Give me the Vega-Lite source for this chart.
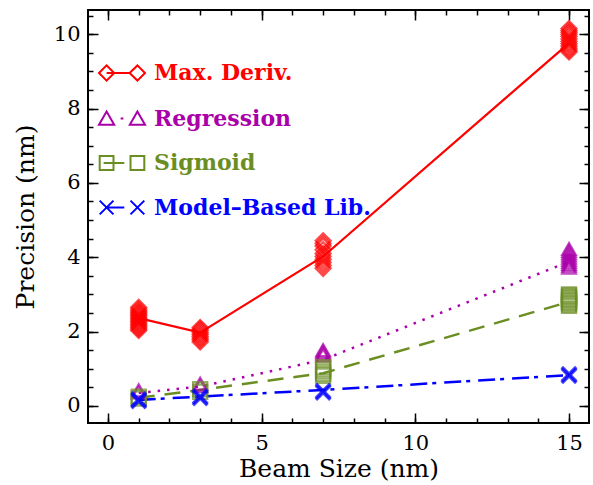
{
  "$schema": "https://vega.github.io/schema/vega-lite/v6.json",
  "width": 501,
  "height": 413,
  "autosize": {"type": "none"},
  "padding": {"left": 88, "top": 10, "right": 4, "bottom": 62},
  "background": "white",
  "config": {
    "view": {"stroke": "black", "strokeWidth": 2},
    "axis": {
      "domain": false, "grid": false, "ticks": true, "tickColor": "black", "tickWidth": 1.5,
      "labelFont": "DejaVu Serif", "labelFontSize": 21, "labelColor": "black",
      "titleFont": "DejaVu Serif", "titleFontSize": 25, "titleFontWeight": "normal", "titleColor": "black"
    }
  },
  "datasets": {
    "lines": [
      {"series": "Max. Deriv.", "x": 1, "y": 2.36},
      {"series": "Max. Deriv.", "x": 3, "y": 1.97},
      {"series": "Max. Deriv.", "x": 7, "y": 4.02},
      {"series": "Max. Deriv.", "x": 15, "y": 9.76},
      {"series": "Regression", "x": 1, "y": 0.35},
      {"series": "Regression", "x": 3, "y": 0.52},
      {"series": "Regression", "x": 7, "y": 1.24},
      {"series": "Regression", "x": 15, "y": 3.88},
      {"series": "Sigmoid", "x": 1, "y": 0.22},
      {"series": "Sigmoid", "x": 3, "y": 0.43},
      {"series": "Sigmoid", "x": 7, "y": 0.88},
      {"series": "Sigmoid", "x": 15, "y": 2.8},
      {"series": "Model–Based Lib.", "x": 1, "y": 0.16},
      {"series": "Model–Based Lib.", "x": 3, "y": 0.25},
      {"series": "Model–Based Lib.", "x": 7, "y": 0.43},
      {"series": "Model–Based Lib.", "x": 15, "y": 0.83}
    ],
    "pts": [
      {"series": "Max. Deriv.", "x": 1, "y": 2.03},
      {"series": "Max. Deriv.", "x": 1, "y": 2.07},
      {"series": "Max. Deriv.", "x": 1, "y": 2.11},
      {"series": "Max. Deriv.", "x": 1, "y": 2.15},
      {"series": "Max. Deriv.", "x": 1, "y": 2.19},
      {"series": "Max. Deriv.", "x": 1, "y": 2.23},
      {"series": "Max. Deriv.", "x": 1, "y": 2.27},
      {"series": "Max. Deriv.", "x": 1, "y": 2.31},
      {"series": "Max. Deriv.", "x": 1, "y": 2.35},
      {"series": "Max. Deriv.", "x": 1, "y": 2.39},
      {"series": "Max. Deriv.", "x": 1, "y": 2.43},
      {"series": "Max. Deriv.", "x": 1, "y": 2.47},
      {"series": "Max. Deriv.", "x": 1, "y": 2.51},
      {"series": "Max. Deriv.", "x": 1, "y": 2.55},
      {"series": "Max. Deriv.", "x": 1, "y": 2.6},
      {"series": "Max. Deriv.", "x": 1, "y": 2.65},
      {"series": "Max. Deriv.", "x": 3, "y": 1.72},
      {"series": "Max. Deriv.", "x": 3, "y": 1.77},
      {"series": "Max. Deriv.", "x": 3, "y": 1.82},
      {"series": "Max. Deriv.", "x": 3, "y": 1.87},
      {"series": "Max. Deriv.", "x": 3, "y": 1.92},
      {"series": "Max. Deriv.", "x": 3, "y": 1.97},
      {"series": "Max. Deriv.", "x": 3, "y": 2.02},
      {"series": "Max. Deriv.", "x": 3, "y": 2.07},
      {"series": "Max. Deriv.", "x": 3, "y": 2.11},
      {"series": "Max. Deriv.", "x": 7, "y": 3.7},
      {"series": "Max. Deriv.", "x": 7, "y": 3.78},
      {"series": "Max. Deriv.", "x": 7, "y": 3.86},
      {"series": "Max. Deriv.", "x": 7, "y": 3.94},
      {"series": "Max. Deriv.", "x": 7, "y": 4.02},
      {"series": "Max. Deriv.", "x": 7, "y": 4.1},
      {"series": "Max. Deriv.", "x": 7, "y": 4.2},
      {"series": "Max. Deriv.", "x": 7, "y": 4.3},
      {"series": "Max. Deriv.", "x": 7, "y": 4.37},
      {"series": "Max. Deriv.", "x": 7, "y": 4.44},
      {"series": "Max. Deriv.", "x": 15, "y": 9.52},
      {"series": "Max. Deriv.", "x": 15, "y": 9.57},
      {"series": "Max. Deriv.", "x": 15, "y": 9.62},
      {"series": "Max. Deriv.", "x": 15, "y": 9.68},
      {"series": "Max. Deriv.", "x": 15, "y": 9.74},
      {"series": "Max. Deriv.", "x": 15, "y": 9.8},
      {"series": "Max. Deriv.", "x": 15, "y": 9.87},
      {"series": "Max. Deriv.", "x": 15, "y": 9.94},
      {"series": "Max. Deriv.", "x": 15, "y": 10.0},
      {"series": "Max. Deriv.", "x": 15, "y": 10.05},
      {"series": "Max. Deriv.", "x": 15, "y": 10.1},
      {"series": "Max. Deriv.", "x": 15, "y": 10.15},
      {"series": "Regression", "x": 1, "y": 0.36},
      {"series": "Regression", "x": 1, "y": 0.42},
      {"series": "Regression", "x": 3, "y": 0.54},
      {"series": "Regression", "x": 3, "y": 0.6},
      {"series": "Regression", "x": 7, "y": 1.36},
      {"series": "Regression", "x": 7, "y": 1.41},
      {"series": "Regression", "x": 7, "y": 1.46},
      {"series": "Regression", "x": 7, "y": 1.5},
      {"series": "Regression", "x": 15, "y": 3.72},
      {"series": "Regression", "x": 15, "y": 3.77},
      {"series": "Regression", "x": 15, "y": 3.82},
      {"series": "Regression", "x": 15, "y": 3.87},
      {"series": "Regression", "x": 15, "y": 3.93},
      {"series": "Regression", "x": 15, "y": 3.99},
      {"series": "Regression", "x": 15, "y": 4.05},
      {"series": "Regression", "x": 15, "y": 4.11},
      {"series": "Regression", "x": 15, "y": 4.17},
      {"series": "Regression", "x": 15, "y": 4.22},
      {"series": "Sigmoid", "x": 1, "y": 0.2},
      {"series": "Sigmoid", "x": 1, "y": 0.25},
      {"series": "Sigmoid", "x": 3, "y": 0.38},
      {"series": "Sigmoid", "x": 3, "y": 0.45},
      {"series": "Sigmoid", "x": 7, "y": 0.81},
      {"series": "Sigmoid", "x": 7, "y": 0.86},
      {"series": "Sigmoid", "x": 7, "y": 0.92},
      {"series": "Sigmoid", "x": 7, "y": 0.98},
      {"series": "Sigmoid", "x": 7, "y": 1.04},
      {"series": "Sigmoid", "x": 15, "y": 2.69},
      {"series": "Sigmoid", "x": 15, "y": 2.73},
      {"series": "Sigmoid", "x": 15, "y": 2.77},
      {"series": "Sigmoid", "x": 15, "y": 2.81},
      {"series": "Sigmoid", "x": 15, "y": 2.85},
      {"series": "Sigmoid", "x": 15, "y": 2.89},
      {"series": "Sigmoid", "x": 15, "y": 2.93},
      {"series": "Sigmoid", "x": 15, "y": 2.97},
      {"series": "Sigmoid", "x": 15, "y": 3.0},
      {"series": "Model–Based Lib.", "x": 1, "y": 0.13},
      {"series": "Model–Based Lib.", "x": 1, "y": 0.17},
      {"series": "Model–Based Lib.", "x": 3, "y": 0.21},
      {"series": "Model–Based Lib.", "x": 3, "y": 0.25},
      {"series": "Model–Based Lib.", "x": 7, "y": 0.36},
      {"series": "Model–Based Lib.", "x": 7, "y": 0.4},
      {"series": "Model–Based Lib.", "x": 15, "y": 0.81},
      {"series": "Model–Based Lib.", "x": 15, "y": 0.85}
    ]
  },
  "resolve": {"scale": {"x": "independent", "y": "independent"}, "axis": {"x": "independent", "y": "independent"}},
  "layer": [
    {
      "data": {"name": "lines"},
      "transform": [{"filter": "datum.series === 'Max. Deriv.'"}],
      "mark": {"type": "line", "strokeWidth": 2.2},
      "encoding": {
        "x": {"field": "x", "type": "quantitative",
          "scale": {"domain": [-0.65, 15.65], "nice": false, "zero": false},
          "axis": {"orient": "bottom", "values": [0, 5, 10, 15], "offset": -10, "tickSize": 10, "labelPadding": 9, "title": "Beam Size (nm)", "titlePadding": 3}},
        "y": {"field": "y", "type": "quantitative",
          "scale": {"domain": [-0.46, 10.65], "nice": false, "zero": false},
          "axis": {"orient": "left", "values": [0, 2, 4, 6, 8, 10], "offset": -10, "tickSize": 10, "labelPadding": 8, "title": "Precision (nm)", "titlePadding": 15}},
        "color": {"field": "series", "type": "nominal",
          "scale": {"domain": ["Max. Deriv.", "Regression", "Sigmoid", "Model–Based Lib."], "range": ["#ff0000", "#aa00aa", "#6b8e23", "#0000ff"]},
          "legend": {
            "orient": "none", "legendX": 10, "legendY": 39, "title": null, "padding": 0,
            "symbolSize": 2116, "symbolStrokeWidth": 2, "symbolFillColor": "transparent",
            "labelFont": "DejaVu Serif", "labelFontSize": 22, "labelFontWeight": "bold", "labelOffset": 8, "labelLimit": 400, "rowPadding": 9.5,
            "encode": {
              "symbols": {"update": {
                "shape": {"signal": "datum.value === 'Max. Deriv.' ? 'M-1,0L-0.67,-0.33L-0.34,0L-0.67,0.33ZM0.33,0L0.67,-0.33L1,0L0.67,0.33ZM-0.67,0L0.33,0' : datum.value === 'Regression' ? 'M-1,0.27L-0.67,-0.3L-0.34,0.27ZM0.34,0.27L0.67,-0.3L1,0.27ZM-0.06,0L0.06,0' : datum.value === 'Sigmoid' ? 'M-0.97,-0.3H-0.37V0.3H-0.97ZM0.37,-0.3H0.97V0.3H0.37ZM-0.8,0L0.1,0' : 'M-0.97,-0.3L-0.37,0.3M-0.97,0.3L-0.37,-0.3M0.37,-0.3L0.97,0.3M0.37,0.3L0.97,-0.3M-0.67,0L0.1,0'"},
                "fill": {"value": "transparent"}
              }},
              "labels": {"update": {"fill": {"scale": "color", "field": "value"}}}
            }
          }}
      }
    },
    {
      "data": {"name": "lines"},
      "transform": [{"filter": "datum.series === 'Regression'"}],
      "mark": {"type": "line", "strokeWidth": 2.5, "strokeDash": [2.5, 7]},
      "encoding": {
        "x": {"field": "x", "type": "quantitative", "scale": {"domain": [-0.65, 15.65], "nice": false, "zero": false},
          "axis": {"orient": "bottom", "values": [0,1,2,3,4,5,6,7,8,9,10,11,12,13,14,15], "offset": -5, "tickSize": 5, "labels": false, "title": null}},
        "y": {"field": "y", "type": "quantitative", "scale": {"domain": [-0.46, 10.65], "nice": false, "zero": false},
          "axis": {"orient": "left", "values": [0,0.5,1,1.5,2,2.5,3,3.5,4,4.5,5,5.5,6,6.5,7,7.5,8,8.5,9,9.5,10,10.5], "offset": -5, "tickSize": 5, "labels": false, "title": null}},
        "color": {"field": "series", "type": "nominal",
          "scale": {"domain": ["Max. Deriv.", "Regression", "Sigmoid", "Model–Based Lib."], "range": ["#ff0000", "#aa00aa", "#6b8e23", "#0000ff"]}}
      }
    },
    {
      "data": {"name": "lines"},
      "transform": [{"filter": "datum.series === 'Sigmoid'"}],
      "mark": {"type": "line", "strokeWidth": 2.5, "strokeDash": [16, 10]},
      "encoding": {
        "x": {"field": "x", "type": "quantitative", "scale": {"domain": [-0.65, 15.65], "nice": false, "zero": false},
          "axis": {"orient": "top", "values": [0, 5, 10, 15], "offset": -10, "tickSize": 10, "labels": false, "title": null}},
        "y": {"field": "y", "type": "quantitative", "scale": {"domain": [-0.46, 10.65], "nice": false, "zero": false},
          "axis": {"orient": "right", "values": [0, 2, 4, 6, 8, 10], "offset": -10, "tickSize": 10, "labels": false, "title": null}},
        "color": {"field": "series", "type": "nominal",
          "scale": {"domain": ["Max. Deriv.", "Regression", "Sigmoid", "Model–Based Lib."], "range": ["#ff0000", "#aa00aa", "#6b8e23", "#0000ff"]}}
      }
    },
    {
      "data": {"name": "lines"},
      "transform": [{"filter": "datum.series === 'Model–Based Lib.'"}],
      "mark": {"type": "line", "strokeWidth": 2.5, "strokeDash": [17, 5, 4, 8]},
      "encoding": {
        "x": {"field": "x", "type": "quantitative", "scale": {"domain": [-0.65, 15.65], "nice": false, "zero": false},
          "axis": {"orient": "top", "values": [0,1,2,3,4,5,6,7,8,9,10,11,12,13,14,15], "offset": -5, "tickSize": 5, "labels": false, "title": null}},
        "y": {"field": "y", "type": "quantitative", "scale": {"domain": [-0.46, 10.65], "nice": false, "zero": false},
          "axis": {"orient": "right", "values": [0,0.5,1,1.5,2,2.5,3,3.5,4,4.5,5,5.5,6,6.5,7,7.5,8,8.5,9,9.5,10,10.5], "offset": -5, "tickSize": 5, "labels": false, "title": null}},
        "color": {"field": "series", "type": "nominal",
          "scale": {"domain": ["Max. Deriv.", "Regression", "Sigmoid", "Model–Based Lib."], "range": ["#ff0000", "#aa00aa", "#6b8e23", "#0000ff"]}}
      }
    },
    {
      "data": {"name": "pts"},
      "transform": [{"filter": "datum.series === 'Max. Deriv.'"}],
      "mark": {"type": "point", "shape": "diamond", "size": 225, "filled": false, "color": "#ff0000", "strokeWidth": 2.2},
      "encoding": {
        "x": {"field": "x", "type": "quantitative", "scale": {"domain": [-0.65, 15.65], "nice": false, "zero": false}, "axis": null},
        "y": {"field": "y", "type": "quantitative", "scale": {"domain": [-0.46, 10.65], "nice": false, "zero": false}, "axis": null}
      }
    },
    {
      "data": {"name": "pts"},
      "transform": [{"filter": "datum.series === 'Regression'"}],
      "mark": {"type": "point", "shape": "triangle-up", "size": 190, "filled": false, "color": "#aa00aa", "strokeWidth": 2.2},
      "encoding": {
        "x": {"field": "x", "type": "quantitative", "scale": {"domain": [-0.65, 15.65], "nice": false, "zero": false}, "axis": null},
        "y": {"field": "y", "type": "quantitative", "scale": {"domain": [-0.46, 10.65], "nice": false, "zero": false}, "axis": null}
      }
    },
    {
      "data": {"name": "pts"},
      "transform": [{"filter": "datum.series === 'Sigmoid'"}],
      "mark": {"type": "point", "shape": "square", "size": 200, "filled": false, "color": "#6b8e23", "strokeWidth": 2.2},
      "encoding": {
        "x": {"field": "x", "type": "quantitative", "scale": {"domain": [-0.65, 15.65], "nice": false, "zero": false}, "axis": null},
        "y": {"field": "y", "type": "quantitative", "scale": {"domain": [-0.46, 10.65], "nice": false, "zero": false}, "axis": null}
      }
    },
    {
      "data": {"name": "pts"},
      "transform": [{"filter": "datum.series === 'Model–Based Lib.'"}],
      "mark": {"type": "point", "shape": "M-1,-1L1,1M-1,1L1,-1", "size": 210, "filled": false, "color": "#0000ff", "strokeWidth": 3.5},
      "encoding": {
        "x": {"field": "x", "type": "quantitative", "scale": {"domain": [-0.65, 15.65], "nice": false, "zero": false}, "axis": null},
        "y": {"field": "y", "type": "quantitative", "scale": {"domain": [-0.46, 10.65], "nice": false, "zero": false}, "axis": null}
      }
    }
  ]
}
